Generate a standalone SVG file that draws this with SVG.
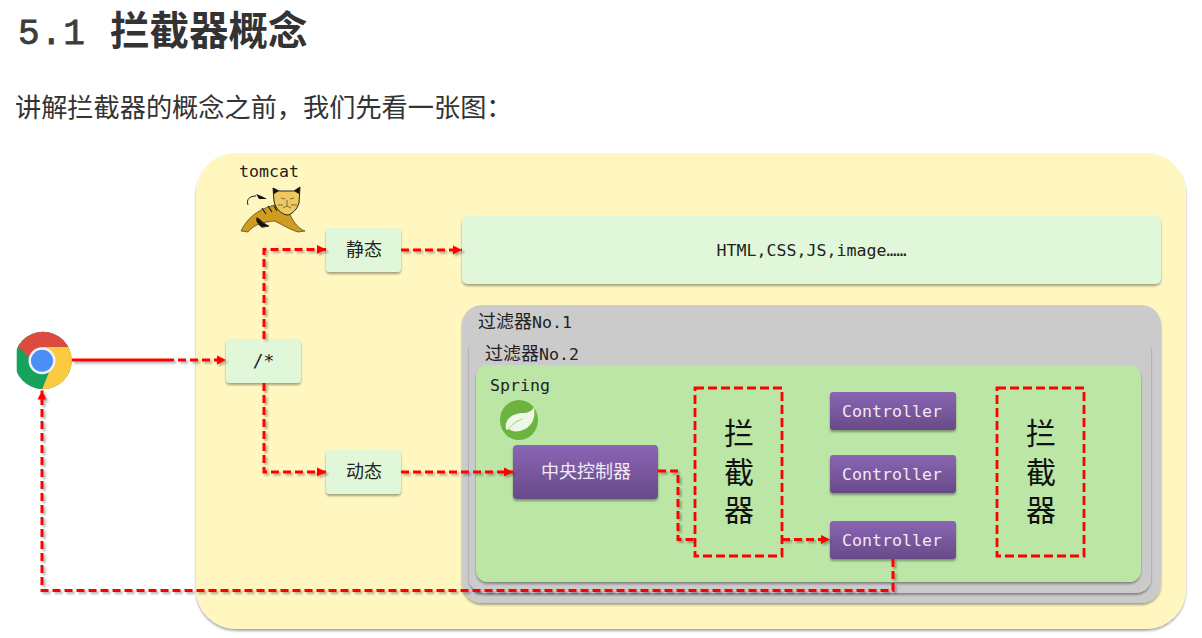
<svg xmlns="http://www.w3.org/2000/svg" width="1202" height="638" viewBox="0 0 1202 638">
<style>
.mono{font-family:"DejaVu Sans Mono","Liberation Mono","Noto Sans CJK SC",monospace;font-size:16.6px;fill:#222}
.cjk{font-family:"Noto Sans CJK SC",sans-serif}
.node{font-size:18px;fill:#222;text-anchor:middle}
.lt{fill:#e1f7d9;filter:url(#sh)}
.pb{fill:url(#pg);filter:url(#sh)}
.ctl{fill:#f1e9f6;text-anchor:middle}
.ic{fill:none;stroke:#f00;stroke-width:2.800;stroke-dasharray:9 4}
.ict{font-size:30px;fill:#111;text-anchor:middle}
.c{fill:none;stroke:#f00;stroke-width:3;stroke-dasharray:8 4}
</style>
<defs>
<linearGradient id="pg" x1="0" y1="0" x2="0" y2="1"><stop offset="0" stop-color="#8a65b4"/><stop offset="1" stop-color="#684a88"/></linearGradient>
<filter id="sh" x="-10%" y="-10%" width="120%" height="125%"><feDropShadow dx="0" dy="2" stdDeviation="1.2" flood-color="#000" flood-opacity=".35"/></filter>
<filter id="ls" x="-5%" y="-5%" width="110%" height="110%"><feDropShadow dx="2" dy="2" stdDeviation="1.2" flood-color="#000" flood-opacity=".3"/></filter>
<marker id="ah" markerUnits="userSpaceOnUse" markerWidth="10" markerHeight="10" refX="9" refY="5" orient="auto"><path d="M0 .5L9 5L0 9.500Z" fill="#f00"/></marker>
<clipPath id="cc"><path d="M16.700 330H72V390H16.700Z"/></clipPath>
<clipPath id="cd"><circle cx="43" cy="360.500" r="28.700"/></clipPath>
</defs>
<rect width="1202" height="638" fill="#fff"/>
<g id="title"><text x="18" y="44" font-family="'Liberation Mono',monospace" font-size="36" letter-spacing="1" fill="#3c3c3c" stroke="#3c3c3c" stroke-width=".8">5.1</text>
<text x="110" y="45" class="cjk" font-weight="700" font-size="39.500" fill="#333">拦截器概念</text></g>
<text id="intro" x="15" y="117" class="cjk" font-size="26.200" fill="#333">讲解拦截器的概念之前，我们先看一张图：</text>

<g id="tomcat"><rect x="196" y="153" width="990" height="476" rx="40" fill="#fff6c0" filter="url(#sh)"/>
<text x="239" y="177" class="mono">tomcat</text>
<g id="tomcat-logo">
<path d="M248 205C246 199 250 196 256 196" fill="none" stroke="#222" stroke-width="1"/>
<path d="M256 194C261 196 264 197 267 199L259 199Z" fill="#111"/>
<path d="M241 231C247 219 256 210 274 205L285 200L289 212C292 220 298 229 305 231L298 232C288 229 280 223 274 221C265 222 254 224 248 232Z" fill="#cf9c1f" stroke="#222" stroke-width=".6"/>
<path d="M257 218C261 220 264 225 269 226L262 227C258 224 256 221 257 218ZM262 208L266 214M268 206L272 212M274 206L277 211" fill="#111" stroke="#222" stroke-width="1.200"/>
<path d="M273 188L279 191H294L300 187L299 203C297 210 291 215 287 215C281 214 275 208 274 201Z" fill="#efc95f" stroke="#222" stroke-width="1"/>
<path d="M273 188L279 191L274 194ZM300 187L294 191L299 194Z" fill="#111"/>
<path d="M281 198L285 199M290 199L294 198M287 200V206M283 208L287 206L291 208M278 205H283M291 205H297" fill="none" stroke="#444" stroke-width=".7"/>
</g></g>

<g id="static"><rect class="lt" x="326" y="228" width="75" height="44" rx="4"/><text x="364" y="256" class="cjk node">静态</text></g>
<g id="dynamic"><rect class="lt" x="326" y="450" width="75" height="44" rx="4"/><text x="364" y="478" class="cjk node">动态</text></g>
<g id="wild"><rect class="lt" x="226" y="339" width="75" height="44" rx="4"/><text x="263.500" y="367" class="mono node" text-anchor="middle">/*</text></g>
<g id="resources"><rect class="lt" x="462" y="216" width="699" height="68" rx="6"/><text x="811.500" y="256" class="mono" text-anchor="middle">HTML,CSS,JS,image……</text></g>

<g id="filter1"><rect x="462" y="305" width="699" height="298" rx="20" fill="#cbcbcb" filter="url(#sh)"/><text x="478" y="328" class="mono"><tspan class="cjk" font-size="18">过滤器</tspan>No.1</text></g>
<g id="filter2"><rect x="469" y="335" width="682" height="258" rx="15" fill="#cbcbcb" filter="url(#sh)"/><text x="485" y="360" class="mono"><tspan class="cjk" font-size="18">过滤器</tspan>No.2</text></g>
<g id="spring"><rect x="476" y="365" width="665" height="217" rx="12" fill="#bbe6a5" filter="url(#sh)"/><text x="490" y="391" class="mono">Spring</text>
<g id="spring-logo"><ellipse cx="519" cy="420" rx="19" ry="20" fill="#6db33f"/><path d="M506 429C504 419 513 413 523 413C528 413 532 411 534 407C536 418 532 428 520 431C515 432 511 431 509 429C513 423 518 421 525 418C518 420 512 423 508 430Z" fill="#eef7e6"/></g></g>

<g id="dispatcher"><rect class="pb" x="513" y="445" width="145" height="54" rx="4"/><text x="586" y="478" class="cjk node" style="fill:#f1e9f6">中央控制器</text></g>
<g id="interceptor1"><rect class="ic" x="695" y="388" width="87" height="168"/><text class="cjk ict"><tspan x="739" y="444">拦</tspan><tspan x="739" y="483">截</tspan><tspan x="739" y="521">器</tspan></text></g>
<g id="controller1"><rect class="pb" x="830" y="392" width="126" height="38" rx="3"/><text x="892" y="417" class="mono ctl">Controller</text></g>
<g id="controller2"><rect class="pb" x="830" y="455" width="126" height="38" rx="3"/><text x="892" y="480" class="mono ctl">Controller</text></g>
<g id="controller3"><rect class="pb" x="830" y="521" width="126" height="38" rx="3"/><text x="892" y="546" class="mono ctl">Controller</text></g>
<g id="interceptor2"><rect class="ic" x="997" y="388" width="87" height="168"/><text class="cjk ict"><tspan x="1041" y="444">拦</tspan><tspan x="1041" y="483">截</tspan><tspan x="1041" y="521">器</tspan></text></g>

<g id="chrome" clip-path="url(#cc)"><g clip-path="url(#cd)">
<rect x="10" y="325" width="70" height="70" fill="#16a25a"/>
<path d="M43 347L80 347V320H0V329L33 361Z" fill="#dc4b3f"/>
<path d="M43 347H80V400H38L49 372Z" fill="#fcca3f"/></g>
<circle cx="42" cy="360.700" r="13.500" fill="#eef2fb"/><circle cx="42" cy="360.700" r="11" fill="#4d8ef5"/></g>

<g id="connectors" filter="url(#ls)">
<path d="M72 360H166" fill="none" stroke="#f00" stroke-width="3"/>
<path class="c" d="M166 360H226" marker-end="url(#ah)"/>
<path class="c" d="M264 339V249.500H326" marker-end="url(#ah)"/>
<path class="c" d="M264 383V472H326" marker-end="url(#ah)"/>
<path class="c" d="M401 250H462" marker-end="url(#ah)"/>
<path class="c" d="M401 472H513" marker-end="url(#ah)"/>
<path class="c" d="M658 471H678V539.500H695"/>
<path class="c" d="M782 539.500H830" marker-end="url(#ah)"/>
<path class="c" d="M893 559V590.500H42V390.500" marker-end="url(#ah)"/>
</g>
</svg>
